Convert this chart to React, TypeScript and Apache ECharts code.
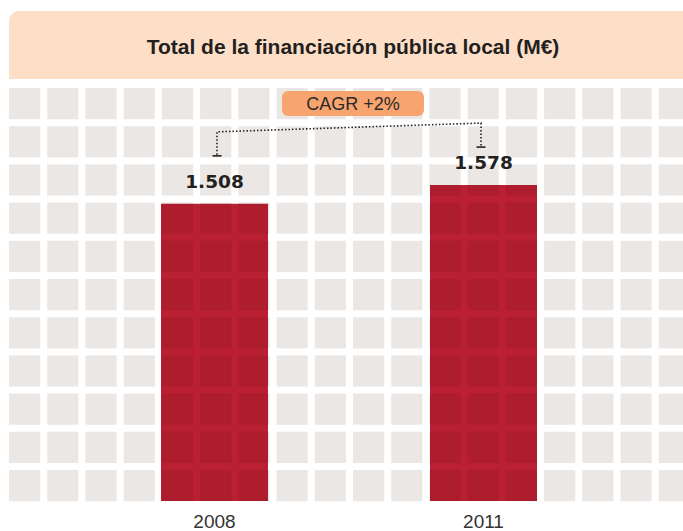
import React, { useEffect, useRef } from "react";
import * as echarts from "echarts";

const categories = ["2008", "2011"];
const values = [1508, 1578];
const valueLabels = ["1.508", "1.578"];
const titleText = "Total de la financiación pública local (M€)";
const cagrText = "CAGR +2%";

const W = 683;
const H = 531;

export default function App() {
  const ref = useRef<HTMLDivElement>(null);

  useEffect(() => {
    document.body.style.margin = "0";
    if (!ref.current) return;
    const chart = echarts.init(ref.current, null, { renderer: "svg" });

    // background tile pattern (decoration)
    const tiles: any[] = [];
    const pitch = 38.22;
    const size = 31.2;
    for (let r = 0; r < 11; r++) {
      for (let c = 0; c < 18; c++) {
        tiles.push({
          type: "rect",
          silent: true,
          z: 100,
          shape: { x: 9 + c * pitch, y: 88 + r * 38.2, width: size, height: size },
          style: { fill: "rgba(55,15,0,0.1)" },
        });
      }
    }

    const option: any = {
      animation: false,
      title: {
        text: titleText,
        left: 348,
        textAlign: "center",
        top: 31,
        textStyle: {
          fontFamily: "Liberation Sans",
          fontWeight: "bold",
          fontSize: 21,
          color: "#231f20",
        },
      },
      grid: { left: 80, right: 65, top: 88, bottom: 30 },
      xAxis: {
        type: "category",
        data: categories,
        axisLine: { show: false },
        axisTick: { show: false },
        axisLabel: {
          margin: 11,
          fontFamily: "Liberation Sans",
          fontSize: 19,
          color: "#333333",
        },
      },
      yAxis: {
        type: "value",
        min: 400,
        max: 1940,
        show: false,
        splitLine: { show: false },
      },
      series: [
        {
          type: "bar",
          data: values,
          barWidth: 107,
          itemStyle: { color: "#ba1f33" },
          label: {
            show: true,
            position: "top",
            distance: 13,
            formatter: (p: any) => valueLabels[p.dataIndex],
            fontFamily: "DejaVu Sans",
            fontWeight: "bold",
            fontSize: 18.5,
            color: "#222222",
          },
        },
      ],
    };
    chart.setOption(option);

    const p1 = chart.convertToPixel({ gridIndex: 0 }, [0, values[0]]) as number[];
    const p2 = chart.convertToPixel({ gridIndex: 0 }, [1, values[1]]) as number[];
    const x1 = p1[0] + 2.5;
    const x2 = p2[0] - 2.5;
    const dotted = { stroke: "#222222", lineWidth: 1.6, lineDash: [1.5, 2] };

    chart.setOption({
      graphic: [
        {
          type: "rect",
          silent: true,
          z: 1,
          shape: { x: 9, y: 11, width: 700, height: 68, r: [10, 0, 0, 0] },
          style: { fill: "#fddec7" },
        },
        ...tiles,
        {
          type: "polyline",
          silent: true,
          z: 150,
          shape: {
            points: [
              [x1, p1[1] - 49],
              [x1, p1[1] - 72],
              [x2, p2[1] - 62],
              [x2, p2[1] - 39],
            ],
          },
          style: { ...dotted, fill: null },
        },
        {
          type: "line",
          silent: true,
          z: 150,
          shape: { x1: x1 - 4.5, y1: p1[1] - 48, x2: x1 + 4.5, y2: p1[1] - 48 },
          style: { stroke: "#222222", lineWidth: 1.6 },
        },
        {
          type: "line",
          silent: true,
          z: 150,
          shape: { x1: x2 - 4.5, y1: p2[1] - 38, x2: x2 + 4.5, y2: p2[1] - 38 },
          style: { stroke: "#222222", lineWidth: 1.6 },
        },
        {
          type: "rect",
          silent: true,
          z: 200,
          shape: { x: 282, y: 91, width: 142, height: 25, r: 6 },
          style: { fill: "#f8a46e" },
        },
        {
          type: "text",
          silent: true,
          z: 201,
          x: 353,
          y: 104,
          style: {
            text: cagrText,
            fontFamily: "Liberation Sans",
            fontSize: 18,
            fill: "#2a2a2a",
            align: "center",
            verticalAlign: "middle",
          },
        },
      ],
    });

    return () => chart.dispose();
  }, []);

  return <div ref={ref} style={{ width: W, height: H }} />;
}
